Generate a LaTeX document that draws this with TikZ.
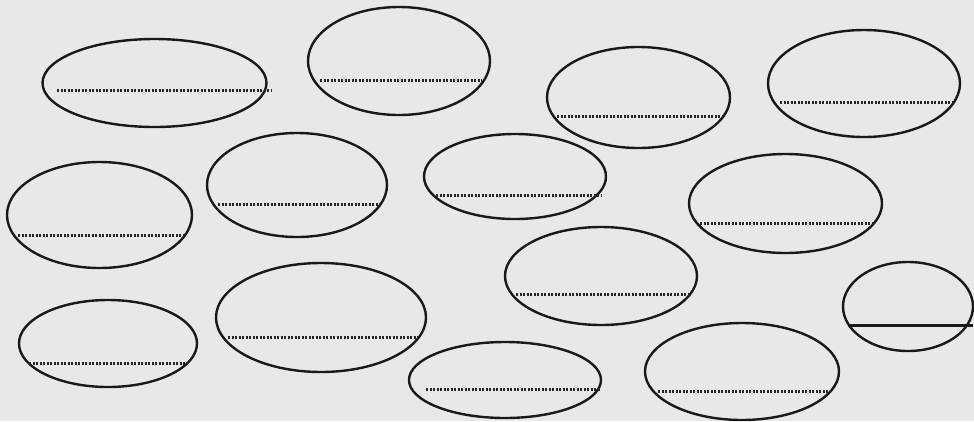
\documentclass[tikz,border=0pt]{standalone}
\begin{document}
\begin{tikzpicture}[x=1pt, y=-1pt,
    oval/.style={line width=2.4pt, black!90},
    dotline/.style={line width=3pt, black!85, dash pattern=on 2.2pt off 1.3pt},
    fullline/.style={line width=3pt, black!90}]
  % Paper
  \fill[black!9] (0,0) rectangle (974,421);
  \useasboundingbox (0,0) rectangle (974,421);
  % Top row
  \draw[oval] (154.5,83) ellipse [x radius=112, y radius=44];
  \draw[dotline] (57,90) -- (272,90);
  \draw[oval] (399,61) ellipse [x radius=91, y radius=54];
  \draw[dotline] (320,80) -- (482,80);
  \draw[oval] (638.5,97.5) ellipse [x radius=91.5, y radius=50.5];
  \draw[dotline] (557,116) -- (723,116);
  \draw[oval] (864,83.5) ellipse [x radius=96, y radius=53.5];
  \draw[dotline] (780,102) -- (952,102);
  % Second row
  \draw[oval] (99.5,215) ellipse [x radius=92.5, y radius=53];
  \draw[dotline] (18,235) -- (183,235);
  \draw[oval] (297,185) ellipse [x radius=90, y radius=52];
  \draw[dotline] (218,204) -- (380,204);
  \draw[oval] (515,176.5) ellipse [x radius=91, y radius=42.5];
  \draw[dotline] (436,195) -- (601,195);
  \draw[oval] (785.5,203.5) ellipse [x radius=96.5, y radius=49.5];
  \draw[dotline] (700,223) -- (872,223);
  % Third row
  \draw[oval] (601,276) ellipse [x radius=96, y radius=49];
  \draw[dotline] (516,294) -- (689,294);
  \draw[oval] (908,306.5) ellipse [x radius=65, y radius=44.5];
  \draw[fullline] (848,325) -- (973,325);
  % Bottom row
  \draw[oval] (108,343.5) ellipse [x radius=89, y radius=43.5];
  \draw[dotline] (29,363) -- (188,363);
  \draw[oval] (321,317.5) ellipse [x radius=105, y radius=54.5];
  \draw[dotline] (228,337) -- (418,337);
  \draw[oval] (505,380) ellipse [x radius=96, y radius=38];
  \draw[dotline] (426,389) -- (600,389);
  \draw[oval] (742,371.5) ellipse [x radius=97, y radius=48.5];
  \draw[dotline] (658,391) -- (830,391);
\end{tikzpicture}
\end{document}
